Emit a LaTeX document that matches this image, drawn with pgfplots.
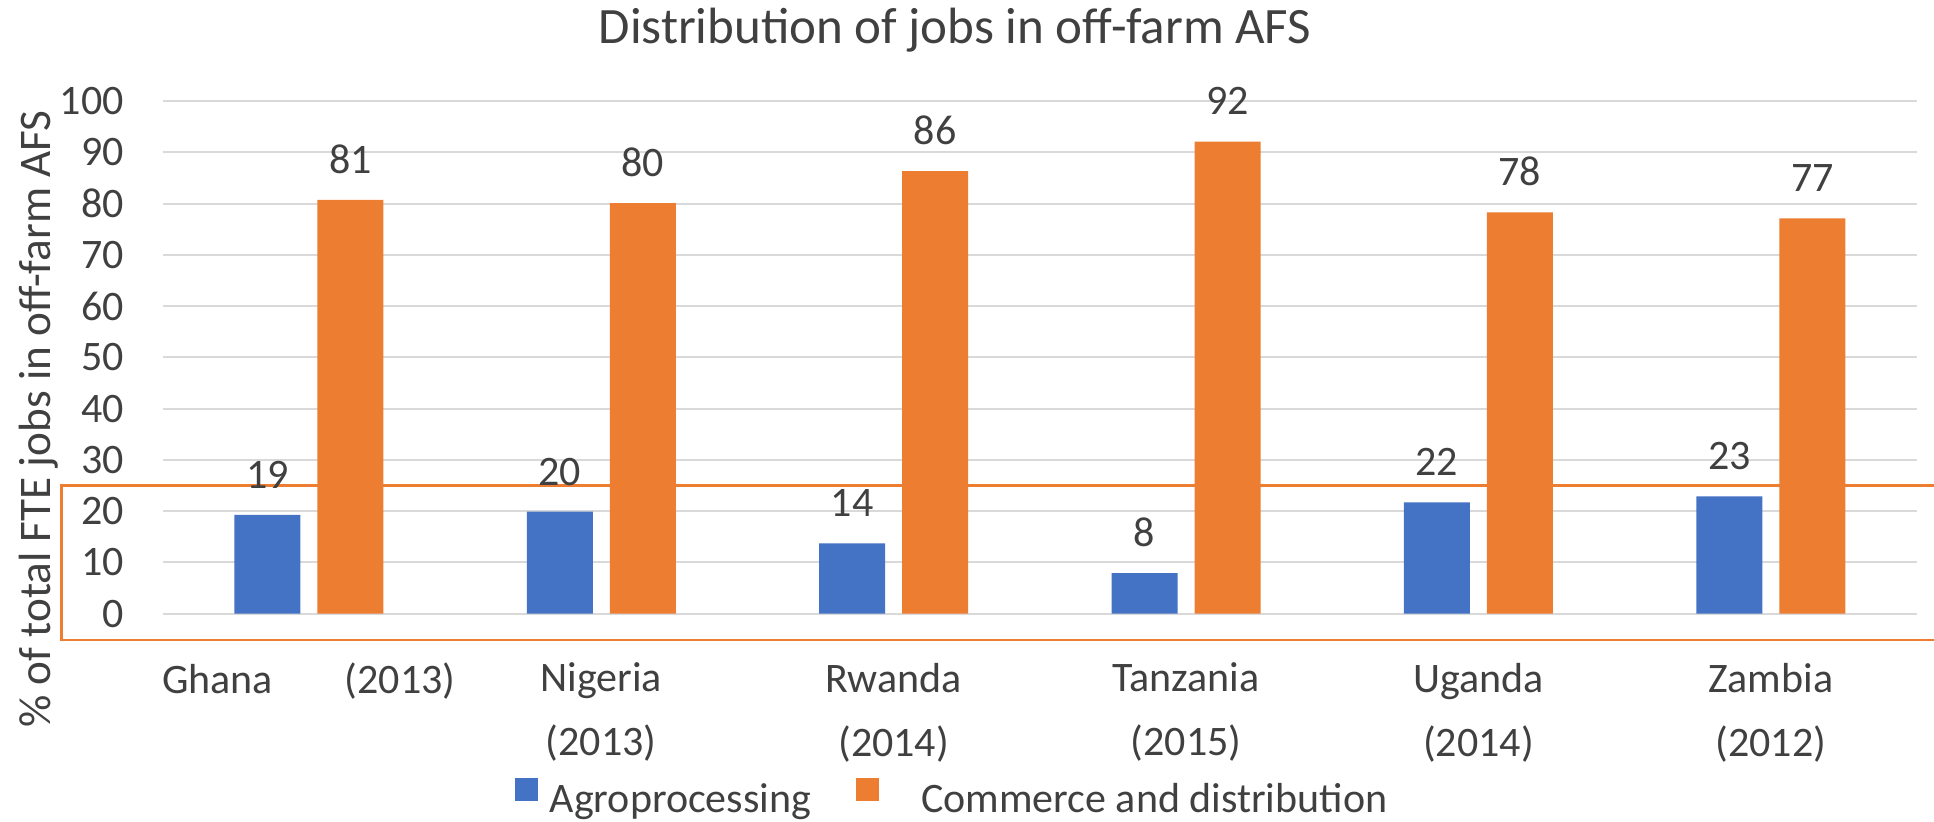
\documentclass[border=0pt]{standalone}
\usepackage{fontspec}
\setmainfont{Carlito}
\usepackage{pgfplots}
\pgfplotsset{compat=1.18}
\definecolor{cblue}{HTML}{4472C4}
\definecolor{corange}{HTML}{ED7D31}
\definecolor{ctext}{HTML}{404040}
\definecolor{cgrid}{HTML}{D9D9D9}
\begin{document}
\begin{tikzpicture}
\useasboundingbox (0,0) rectangle (967pt,410.5pt);
\begin{axis}[
  at={(81.35pt,103.65pt)}, anchor=south west,
  scale only axis, width=877.15pt, height=256.35pt,
  xmin=-0.5, xmax=5.5, ymin=0, ymax=100,
  enlargelimits=false, clip=false,
  ytick={0,10,...,100},
  xtick={0,1,2,3,4,5},
  xticklabels={{Ghana\hspace{36pt}(2013)},{Nigeria\\(2013)},{Rwanda\\(2014)},{Tanzania\\(2015)},{Uganda\\(2014)},{Zambia\\(2012)}},
  axis line style={draw=none},
  major tick length=0pt,
  ymajorgrids, grid style={cgrid, line width=1pt},
  /pgf/number format/assume math mode=true,
  yticklabel style={inner sep=0pt, anchor=east, xshift=-19.3pt, font=\fontsize{21}{25}\selectfont, text=ctext},
  xticklabel style={anchor=north, inner sep=0pt, yshift=-24.4pt, align=center, font=\fontsize{21}{32}\selectfont, text=ctext},
  every axis title shift=0pt,
  title={Distribution of jobs in off-farm AFS},
  title style={at={(0.4516,1.1125)}, anchor=base, font=\fontsize{25.5}{30}\selectfont, text=ctext, inner sep=0pt},
  ylabel={\% of total FTE jobs in off-farm AFS},
  ylabel style={at={(-0.0642,0.3797)}, anchor=base, font=\fontsize{22.6}{26}\selectfont, text=ctext, inner sep=0pt},
  ybar, bar width=33pt,
  nodes near coords={\pgfmathprintnumber[fixed,precision=0,assume math mode=true]{\pgfplotspointmeta}},
  nodes near coords style={font=\fontsize{21}{25}\selectfont, text=ctext, anchor=base, inner sep=0pt, yshift=13.3pt},
  legend style={at={(0.2007,-0.3576)}, anchor=west, draw=none, fill=none, inner sep=0pt, outer sep=0pt,
    legend columns=2, font=\fontsize{21}{25}\selectfont, text=ctext, nodes={inner sep=0pt},
    /tikz/every odd column/.append style={column sep=6pt},
    /tikz/every even column/.append style={column sep=22.5pt}},
  legend image code/.code={\fill[#1] (0pt,-0.75pt) rectangle (11.5pt,10.75pt);},
]
\addplot[fill=cblue, draw=none, bar shift=-20.75pt] coordinates {(0,19.3) (1,19.9) (2,13.7) (3,7.9) (4,21.7) (5,22.9)};
\addplot[fill=corange, draw=none, bar shift=20.75pt] coordinates {(0,80.7) (1,80.1) (2,86.3) (3,92.1) (4,78.3) (5,77.1)};
\legend{Agroprocessing, \hspace{15pt}Commerce and distribution}
\draw[corange, line width=1.35pt] (axis cs:-0.8454,25) rectangle (axis cs:5.7,-5.13);
\end{axis}
\end{tikzpicture}
\end{document}
